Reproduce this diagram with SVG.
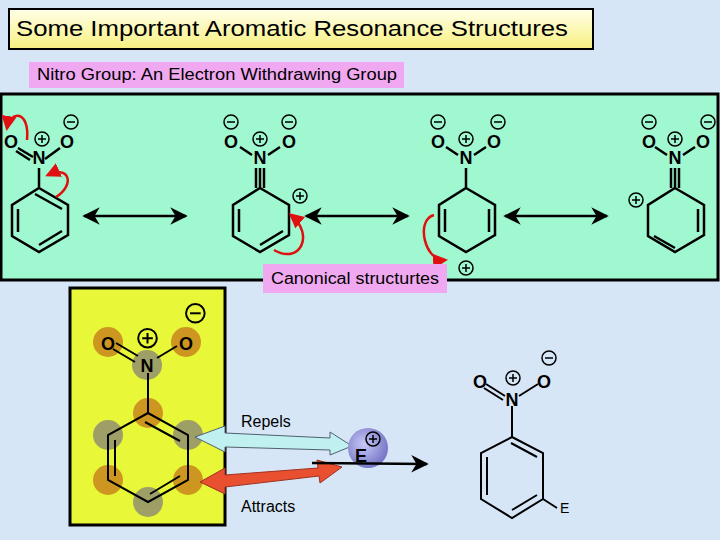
<svg xmlns="http://www.w3.org/2000/svg" width="720" height="540" viewBox="0 0 720 540">
<defs>
<style>
.b{stroke:#000;stroke-width:2.5;fill:none}
.t{font-family:"Liberation Sans",Arial,sans-serif;fill:#000}
.a{font-family:"Liberation Sans",Arial,sans-serif;font-weight:bold;font-size:18px;text-anchor:middle}
.c{fill:none;stroke:#000;stroke-width:1.5}
.r{fill:none;stroke:#e01010;stroke-width:2.5}
</style>
<linearGradient id="ty" x1="0" y1="0" x2="0" y2="1"><stop offset="0" stop-color="#ffffe8"/><stop offset="1" stop-color="#f8f080"/></linearGradient>
<radialGradient id="ep" cx="0.4" cy="0.4" r="0.6"><stop offset="0" stop-color="#c8c8f8"/><stop offset="1" stop-color="#7878c8"/></radialGradient>
<marker id="ah" viewBox="0 0 10 10" refX="9" refY="5" markerWidth="7" markerHeight="7" orient="auto-start-reverse"><path d="M0,0 L10,5 L0,10 L3,5z" fill="#000"/></marker>
<marker id="rh" viewBox="0 0 10 10" refX="8" refY="5" markerWidth="6" markerHeight="6" orient="auto"><path d="M0,0 L10,5 L0,10z" fill="#e01010"/></marker>
<g id="pl"><circle r="7" class="c"/><path d="M-4,0H4M0,-4V4" class="c"/></g>
<g id="mi"><circle r="7" class="c"/><path d="M-4,0H4" class="c"/></g>
</defs>
<rect width="720" height="540" fill="#d6e6f6"/>
<g id="title"><rect x="9" y="9" width="584" height="40" fill="url(#ty)" stroke="#000" stroke-width="2"/>
<text x="16" y="36" class="t" font-size="22" textLength="552" lengthAdjust="spacingAndGlyphs">Some Important Aromatic Resonance Structures</text></g>
<g id="nitro-label"><rect x="29" y="62" width="375" height="26" fill="#f0a8f0"/>
<text x="37" y="80" class="t" font-size="16" textLength="360" lengthAdjust="spacingAndGlyphs">Nitro Group:  An Electron Withdrawing Group</text></g>
<g id="panel"><rect x="1" y="94" width="717" height="186" fill="#a0f8d0" stroke="#000" stroke-width="3"/></g>

<g id="mol1">
<path class="b" d="M39,188 L68,205 L68,235 L39,252 L12,236 L12,205 Z M39,188 V168 M35,194 L62,209 M62,231 L39,245 M18,209 V232"/>
<path class="b" d="M33,157 L18,148 M30,160 L16,151 M45,159 L60,148"/>
<text x="39" y="164" class="a">N</text><text x="11" y="148" class="a">O</text><text x="67" y="148" class="a">O</text>
<use href="#pl" x="42" y="139"/><use href="#mi" x="71" y="122"/>
<path class="r" d="M27,140 C30,110 10,110 7,128" marker-end="url(#rh)"/>
<path class="r" d="M56,197 C75,185 70,165 48,175" marker-end="url(#rh)"/>
</g>
<g id="mol2">
<path class="b" d="M260,188 L289,205 L289,235 L260,252 L233,236 L233,205 Z M260,188 V168 M256,188 V168 M264,188 V168 M283,231 L260,245 M239,209 V232"/>
<path class="b" d="M240,147 L252,155 M280,147 L268,155"/>
<text x="260" y="164" class="a">N</text><text x="231" y="148" class="a">O</text><text x="289" y="148" class="a">O</text>
<use href="#pl" x="260" y="139"/><use href="#mi" x="231" y="122"/><use href="#mi" x="289" y="122"/>
<use href="#pl" x="300" y="196"/>
<path class="r" d="M274,250 C300,265 315,235 291,215" marker-end="url(#rh)"/>
</g>
<g id="mol3">
<path class="b" d="M466,188 L495,205 L495,235 L466,252 L439,236 L439,205 Z M466,188 V168 M489,209 V232 M445,209 V232"/>
<path class="b" d="M446,147 L458,155 M486,147 L474,155"/>
<text x="466" y="164" class="a">N</text><text x="438" y="148" class="a">O</text><text x="494" y="148" class="a">O</text>
<use href="#pl" x="466" y="139"/><use href="#mi" x="438" y="122"/><use href="#mi" x="498" y="122"/>
<use href="#pl" x="466" y="268"/>
<path class="r" d="M434,215 C415,220 425,262 445,260" marker-end="url(#rh)"/>
</g>
<g id="mol4">
<path class="b" d="M675,188 L704,205 L704,235 L675,252 L648,236 L648,205 Z M675,188 V168 M671,188 V168 M679,188 V168 M698,209 V232 M654,236 L675,248"/>
<path class="b" d="M655,147 L667,155 M695,147 L683,155"/>
<text x="675" y="164" class="a">N</text><text x="649" y="148" class="a">O</text><text x="703" y="148" class="a">O</text>
<use href="#pl" x="675" y="139"/><use href="#mi" x="649" y="122"/><use href="#mi" x="708" y="122"/>
<use href="#pl" x="636" y="200"/>
</g>
<g id="connectors">
<line x1="84" y1="216" x2="186" y2="216" stroke="#000" stroke-width="2.5" marker-start="url(#ah)" marker-end="url(#ah)"/>
<line x1="306" y1="216" x2="408" y2="216" stroke="#000" stroke-width="2.5" marker-start="url(#ah)" marker-end="url(#ah)"/>
<line x1="505" y1="216" x2="607" y2="216" stroke="#000" stroke-width="2.5" marker-start="url(#ah)" marker-end="url(#ah)"/>
</g>
<g id="canonical"><rect x="263" y="264" width="184" height="29" fill="#f0a8f0"/>
<text x="271" y="284" class="t" font-size="16" textLength="168" lengthAdjust="spacingAndGlyphs">Canonical structurtes</text></g>

<g id="yellow"><rect x="70" y="288" width="155" height="237" fill="#e8f838" stroke="#000" stroke-width="3"/>
<g opacity="0.85">
<circle cx="108" cy="342" r="15" fill="#c8861c"/><circle cx="186" cy="342" r="15" fill="#c8861c"/>
<circle cx="147" cy="365" r="15" fill="#909070"/><circle cx="148" cy="413" r="15" fill="#c8861c"/>
<circle cx="188" cy="435" r="15" fill="#909070"/><circle cx="108" cy="435" r="15" fill="#909070"/>
<circle cx="188" cy="480" r="15" fill="#c8861c"/><circle cx="108" cy="480" r="15" fill="#c8861c"/>
<circle cx="148" cy="502" r="15" fill="#909070"/></g>
<path d="M148,413 L188,435 L188,480 L148,502 L108,480 L108,435 Z M148,413 V373 M145,422 L180,441 M180,476 L150,494 M115,440 V476 M116,343 L138,356 M113,349 L135,362 M177,346 L157,358" fill="none" stroke="#000" stroke-width="2"/>
<text x="108" y="350" class="a" font-size="18">O</text><text x="186" y="350" class="a" font-size="18">O</text><text x="147" y="372" class="a" font-size="18">N</text>
<use href="#pl" x="147" y="337" transform="translate(-48,-110) scale(1.33)"/>
<use href="#mi" x="195" y="313" transform="translate(-64,-103) scale(1.33)"/>
</g>
<g id="interaction">
<path d="M195,437 L225,426 L225,433 L330,438 L330,432 L352,446 L330,455 L330,450 L225,447 L225,452 Z" fill="#c0f0f0" stroke="#506070" stroke-width="1"/>
<path d="M200,482 L225,468 L225,475 L318,468 L317,460 L342,467 L320,483 L319,476 L225,487 L225,494 Z" fill="#e85030" stroke="#a03020" stroke-width="1"/>
<circle cx="368" cy="448" r="20" fill="url(#ep)"/>
<text x="361" y="462" class="a" font-size="24">E</text>
<use href="#pl" x="373" y="439"/>
<line x1="312" y1="463" x2="427" y2="464" stroke="#000" stroke-width="2.5" marker-end="url(#ah)"/>
<text x="241" y="427" class="t" font-size="16">Repels</text>
<text x="241" y="512" class="t" font-size="16">Attracts</text>
</g>
<g id="mol5">
<path d="M512,437 L543,453 L543,499 L512,518 L481,499 L481,453 Z M512,437 V406 M511,443 L537,457 M537,495 L512,510 M487,457 V495 M543,499 L557,508 M486,384 L505,396 M484,388 L503,400 M538,384 L519,396" fill="none" stroke="#000" stroke-width="2"/>
<text x="512" y="406" class="a" font-size="14">N</text><text x="480" y="388" class="a" font-size="14">O</text><text x="544" y="388" class="a" font-size="14">O</text>
<use href="#pl" x="513" y="378"/><use href="#mi" x="549" y="358"/>
<text x="560" y="513" class="t" font-size="14">E</text>
</g>
</svg>
